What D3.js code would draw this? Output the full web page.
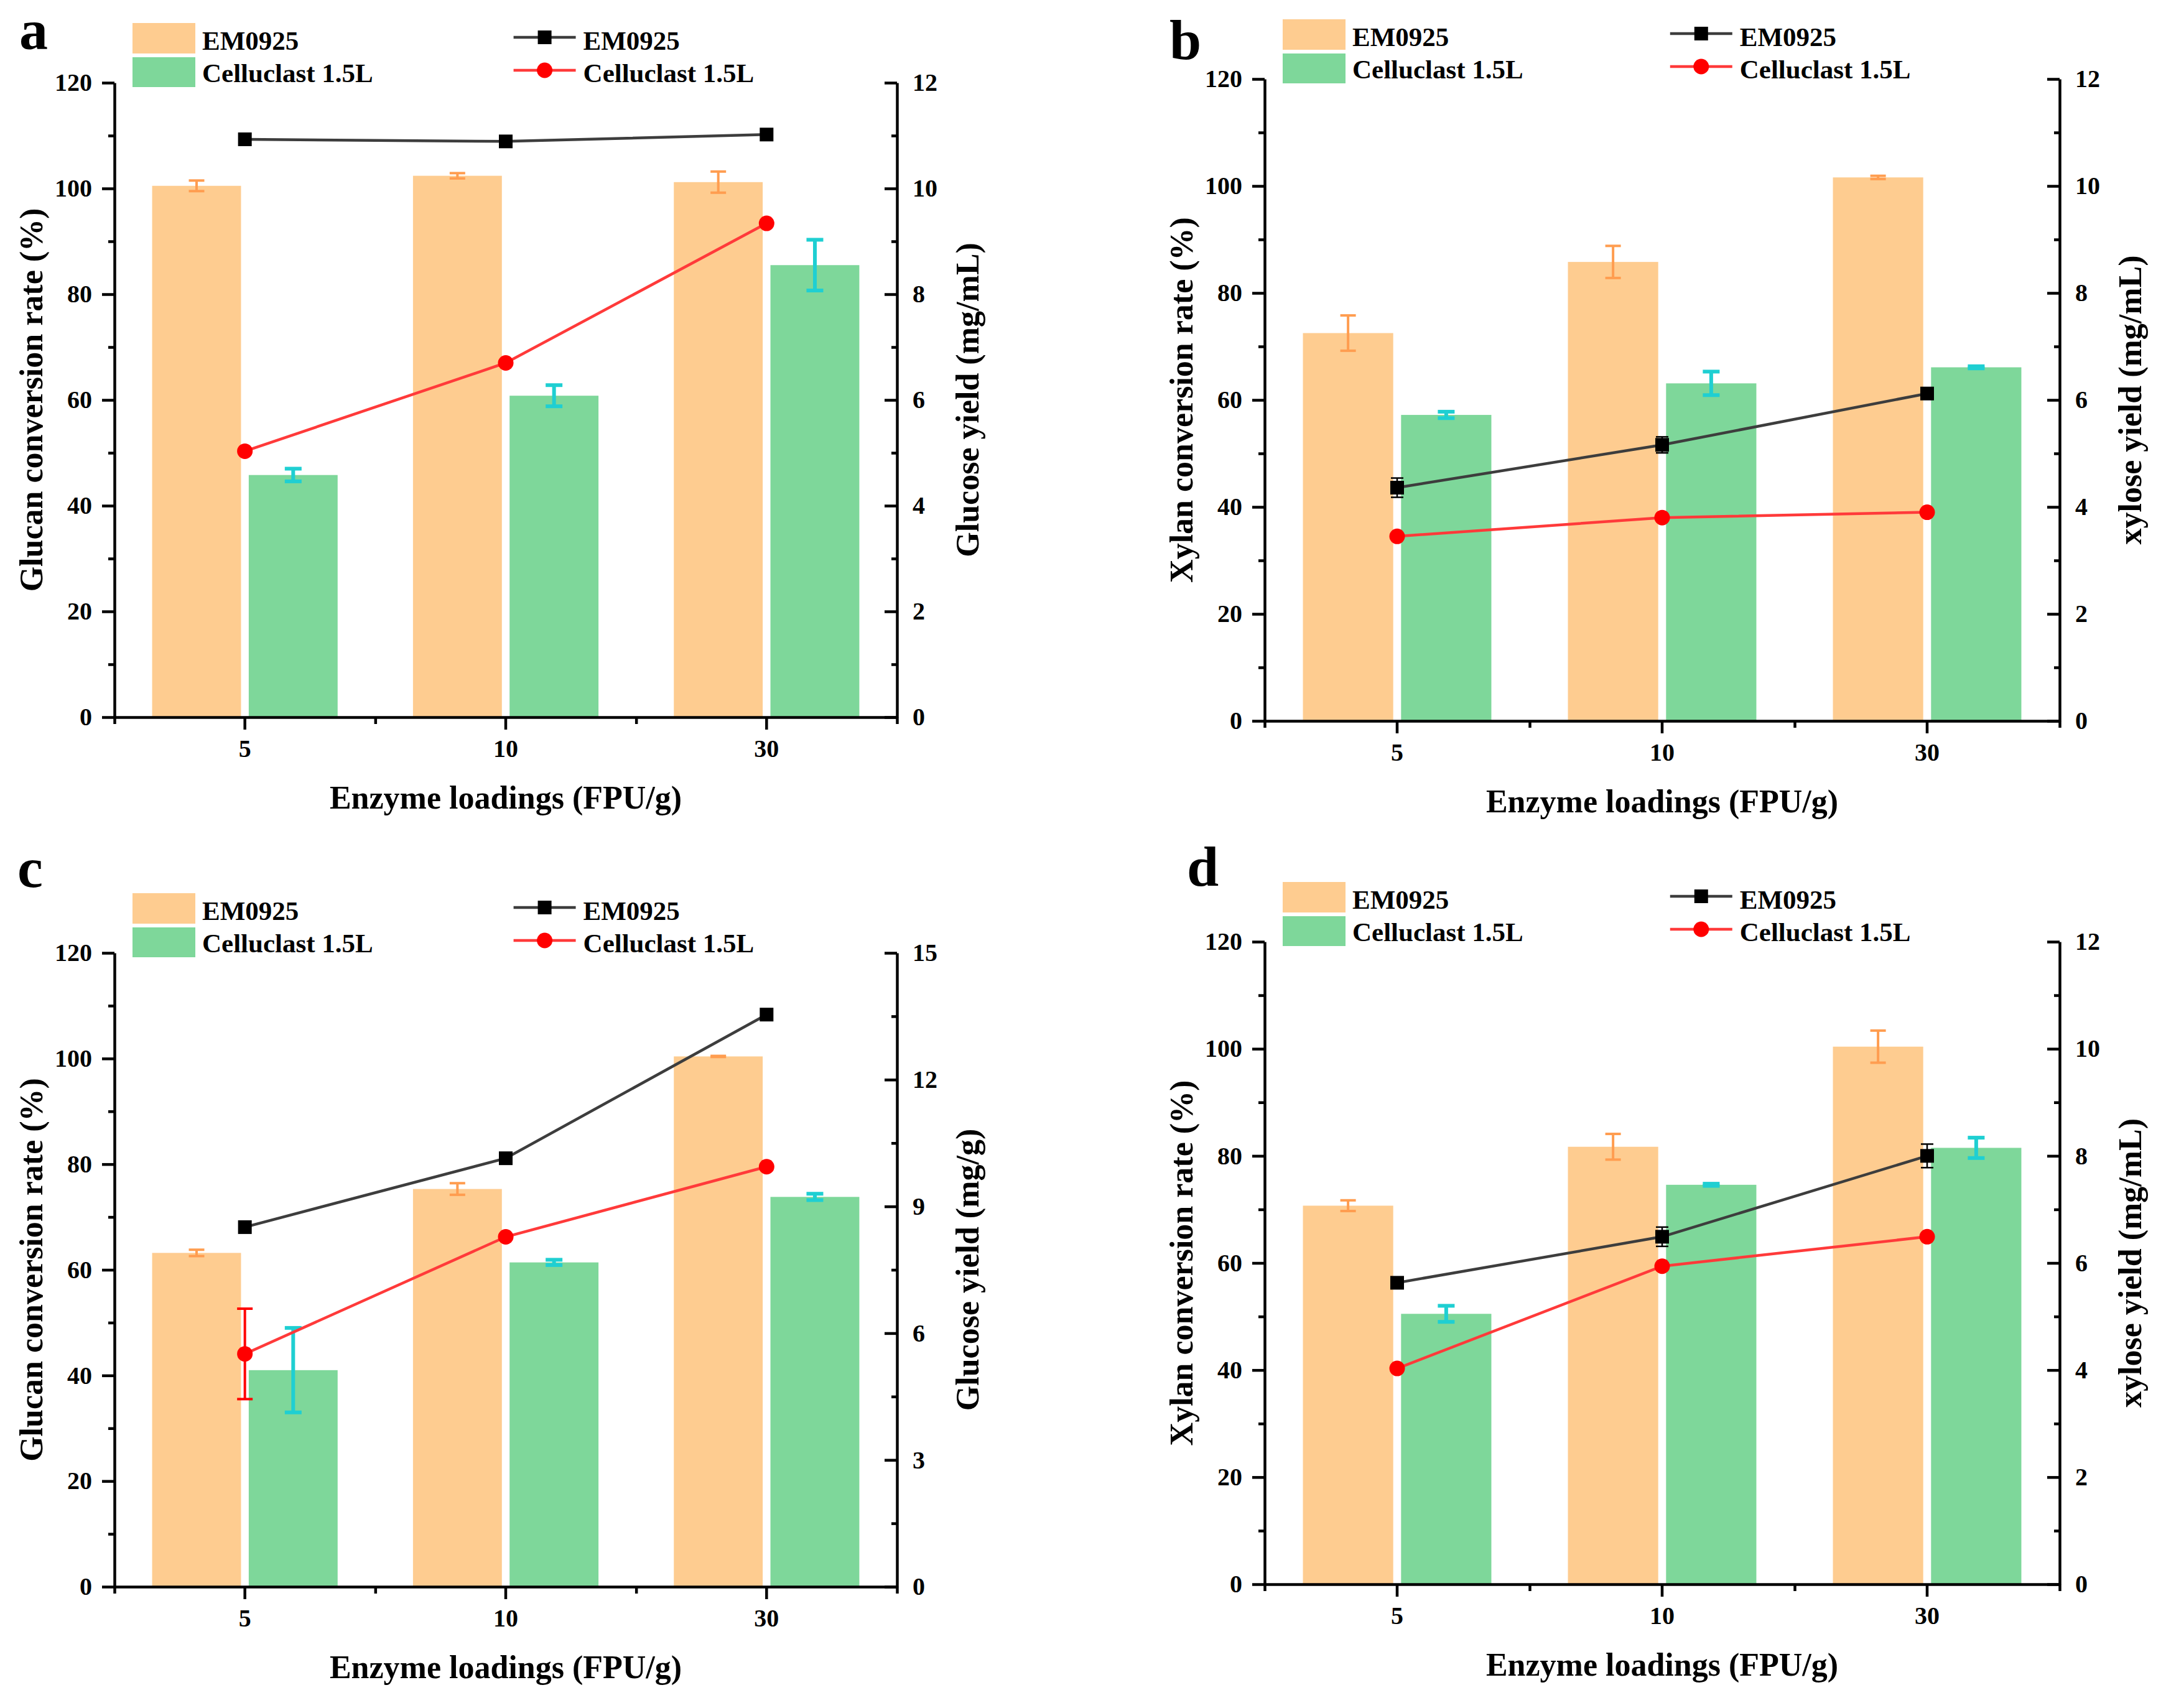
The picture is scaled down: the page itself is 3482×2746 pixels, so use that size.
<!DOCTYPE html>
<html>
<head>
<meta charset="utf-8">
<script src="https://cdn.jsdelivr.net/npm/d3@7"></script>
<style>
  body { margin: 0; background: #fff; }
  text { font-family: "Liberation Serif", "Times New Roman", serif; font-weight: bold; fill: #000; }
</style>
</head>
<body>
<svg id="fig" width="3482" height="2746"></svg>
<script>
// categories
const loadings = ["5", "10", "30"];
const barSeries = ["EM0925", "Celluclast 1.5L"];
const lineSeries = ["EM0925", "Celluclast 1.5L"];

// panel a: glucan conversion (%) / glucose yield (mg/mL)
const aConvEM = [100.5, 102.4, 101.2];
const aConvEMErr = [1.0, 0.5, 2.0];
const aConvCC = [45.8, 60.8, 85.5];
const aConvCCErr = [1.2, 2.0, 4.8];
const aYieldEM = [10.93, 10.89, 11.02];
const aYieldEMErr = [0, 0, 0];
const aYieldCC = [5.03, 6.70, 9.34];
const aYieldCCErr = [0, 0, 0];

// panel b: xylan conversion (%) / xylose yield (mg/mL)
const bConvEM = [72.5, 85.8, 101.6];
const bConvEMErr = [3.3, 3.0, 0.3];
const bConvCC = [57.2, 63.1, 66.1];
const bConvCCErr = [0.6, 2.2, 0.2];
const bYieldEM = [4.36, 5.16, 6.12];
const bYieldEMErr = [0.18, 0.15, 0.05];
const bYieldCC = [3.45, 3.80, 3.90];
const bYieldCCErr = [0, 0, 0];

// panel c: glucan conversion (%) / glucose yield (mg/g)
const cConvEM = [63.2, 75.3, 100.4];
const cConvEMErr = [0.6, 1.1, 0.1];
const cConvCC = [41.0, 61.4, 73.8];
const cConvCCErr = [8.0, 0.5, 0.6];
const cYieldEM = [8.51, 10.14, 13.54];
const cYieldEMErr = [0, 0, 0];
const cYieldCC = [5.51, 8.28, 9.94];
const cYieldCCErr = [1.07, 0, 0];

// panel d: xylan conversion (%) / xylose yield (mg/mL)
const dConvEM = [70.7, 81.7, 100.4];
const dConvEMErr = [1.0, 2.4, 3.0];
const dConvCC = [50.5, 74.6, 81.5];
const dConvCCErr = [1.5, 0.2, 1.9];
const dYieldEM = [5.63, 6.49, 8.00];
const dYieldEMErr = [0.1, 0.18, 0.22];
const dYieldCC = [4.03, 5.94, 6.49];
const dYieldCCErr = [0, 0, 0];

const leftTicks = [0, 20, 40, 60, 80, 100, 120];

const barColors = ["#FECC90", "#7ED79A"];
const barErrColors = ["#FF9D50", "#1FCFD2"];
const lineColors = ["#3D3D3D", "#FF3A3A"];
const markerColors = ["#000000", "#FF0000"];

const panels = [
  {label: "a", labelPos: [31, 79], left: 184, right: 1442, top: 133, bottom: 1153,
   leftTitle: "Glucan conversion rate (%)", rightTitle: "Glucose yield (mg/mL)",
   rightMax: 12, rightStep: 2,
   bars: [aConvEM, aConvCC], barErr: [aConvEMErr, aConvCCErr],
   lines: [aYieldEM, aYieldCC], lineErr: [aYieldEMErr, aYieldCCErr]},
  {label: "b", labelPos: [1880, 95], left: 2033, right: 3311, top: 127, bottom: 1159,
   leftTitle: "Xylan conversion rate (%)", rightTitle: "xylose yield (mg/mL)",
   rightMax: 12, rightStep: 2,
   bars: [bConvEM, bConvCC], barErr: [bConvEMErr, bConvCCErr],
   lines: [bYieldEM, bYieldCC], lineErr: [bYieldEMErr, bYieldCCErr]},
  {label: "c", labelPos: [28, 1426], left: 184, right: 1442, top: 1532, bottom: 2551,
   leftTitle: "Glucan conversion rate (%)", rightTitle: "Glucose yield (mg/g)",
   rightMax: 15, rightStep: 3,
   bars: [cConvEM, cConvCC], barErr: [cConvEMErr, cConvCCErr],
   lines: [cYieldEM, cYieldCC], lineErr: [cYieldEMErr, cYieldCCErr]},
  {label: "d", labelPos: [1908, 1424], left: 2033, right: 3311, top: 1514, bottom: 2547,
   leftTitle: "Xylan conversion rate (%)", rightTitle: "xylose yield (mg/mL)",
   rightMax: 12, rightStep: 2,
   bars: [dConvEM, dConvCC], barErr: [dConvEMErr, dConvCCErr],
   lines: [dYieldEM, dYieldCC], lineErr: [dYieldEMErr, dYieldCCErr]}
];

const svg = d3.select("#fig");
const axisW = 4.5;

function styleAxis(g, fontSize) {
  g.attr("font-size", fontSize).attr("font-family", null);
  g.selectAll("path, line").attr("stroke", "#000").attr("stroke-width", axisW);
}

function drawPanel(p) {
  const g = svg.append("g");
  const W = p.right - p.left;

  const x = d3.scaleBand().domain(loadings).range([p.left, p.right]);
  const xs = d3.scaleBand().domain(barSeries).range([0, x.bandwidth()])
      .paddingInner(0.08).paddingOuter(0.39);
  const y = d3.scaleLinear().domain([0, 120]).range([p.bottom, p.top]);
  const y2 = d3.scaleLinear().domain([0, p.rightMax]).range([p.bottom, p.top]);
  const cx = i => x(loadings[i]) + x.bandwidth() / 2;

  // bars
  p.bars.forEach((vals, si) => {
    g.append("g").selectAll("rect").data(vals).join("rect")
      .attr("x", (d, i) => x(loadings[i]) + xs(barSeries[si]))
      .attr("y", d => y(d))
      .attr("width", xs.bandwidth())
      .attr("height", d => y(0) - y(d))
      .attr("fill", barColors[si]);
  });

  // bar error bars
  p.bars.forEach((vals, si) => {
    const eg = g.append("g").attr("stroke", barErrColors[si])
        .attr("stroke-width", si === 0 ? 4 : 6);
    vals.forEach((v, i) => {
      const e = p.barErr[si][i];
      const bx = x(loadings[i]) + xs(barSeries[si]) + xs.bandwidth() / 2;
      const hw = si === 0 ? 12.5 : 13.5;
      eg.append("line").attr("x1", bx).attr("x2", bx).attr("y1", y(v - e)).attr("y2", y(v + e));
      eg.append("line").attr("x1", bx - hw).attr("x2", bx + hw).attr("y1", y(v + e)).attr("y2", y(v + e));
      eg.append("line").attr("x1", bx - hw).attr("x2", bx + hw).attr("y1", y(v - e)).attr("y2", y(v - e));
    });
  });

  // axes
  const yl = g.append("g").attr("transform", `translate(${p.left},0)`)
      .call(d3.axisLeft(y).tickValues(leftTicks).tickSize(20).tickPadding(16).tickSizeOuter(0));
  styleAxis(yl, 40);
  const ylm = g.append("g").attr("transform", `translate(${p.left},0)`)
      .call(d3.axisLeft(y).tickValues(d3.range(10, 120, 20)).tickSize(10).tickFormat(""));
  ylm.select(".domain").remove();
  styleAxis(ylm, 40);

  const yr = g.append("g").attr("transform", `translate(${p.right},0)`)
      .call(d3.axisRight(y2).tickValues(d3.range(0, p.rightMax + 0.01, p.rightStep))
        .tickSize(-20).tickPadding(25).tickSizeOuter(0));
  styleAxis(yr, 40);
  const yrm = g.append("g").attr("transform", `translate(${p.right},0)`)
      .call(d3.axisRight(y2).tickValues(d3.range(p.rightStep / 2, p.rightMax, p.rightStep))
        .tickSize(-9).tickFormat(""));
  yrm.select(".domain").remove();
  styleAxis(yrm, 40);

  const xb = g.append("g").attr("transform", `translate(0,${p.bottom})`)
      .call(d3.axisBottom(x).tickSize(20).tickPadding(16).tickSizeOuter(0));
  styleAxis(xb, 40);
  const xEdge = d3.scaleLinear().domain([0, loadings.length]).range([p.left, p.right]);
  const xbm = g.append("g").attr("transform", `translate(0,${p.bottom})`)
      .call(d3.axisBottom(xEdge).tickValues(d3.range(0, loadings.length + 1)).tickSize(11).tickFormat(""));
  xbm.select(".domain").remove();
  styleAxis(xbm, 40);

  // lines on right axis
  const line = d3.line().x((d, i) => cx(i)).y(d => y2(d));
  p.lines.forEach((vals, si) => {
    g.append("path").datum(vals)
      .attr("fill", "none").attr("stroke", lineColors[si]).attr("stroke-width", 4.5)
      .attr("d", line);
  });
  p.lines.forEach((vals, si) => {
    const eg = g.append("g").attr("stroke", markerColors[si]).attr("stroke-width", si === 0 ? 2.5 : 4);
    const hw = si === 0 ? 10 : 12.5;
    vals.forEach((v, i) => {
      const e = p.lineErr[si][i];
      if (!e) return;
      eg.append("line").attr("x1", cx(i)).attr("x2", cx(i)).attr("y1", y2(v - e)).attr("y2", y2(v + e));
      eg.append("line").attr("x1", cx(i) - hw).attr("x2", cx(i) + hw).attr("y1", y2(v + e)).attr("y2", y2(v + e));
      eg.append("line").attr("x1", cx(i) - hw).attr("x2", cx(i) + hw).attr("y1", y2(v - e)).attr("y2", y2(v - e));
    });
  });
  p.lines.forEach((vals, si) => {
    const mg = g.append("g").attr("fill", markerColors[si]);
    if (si === 0) {
      mg.selectAll("rect").data(vals).join("rect")
        .attr("x", (d, i) => cx(i) - 11).attr("y", d => y2(d) - 11)
        .attr("width", 22).attr("height", 22);
    } else {
      mg.selectAll("circle").data(vals).join("circle")
        .attr("cx", (d, i) => cx(i)).attr("cy", d => y2(d)).attr("r", 12.5);
    }
  });

  // titles
  const midY = (p.top + p.bottom) / 2;
  g.append("text").attr("transform", `translate(${p.left - 134},${midY}) rotate(-90)`)
    .attr("text-anchor", "middle").attr("dy", "0.35em").attr("font-size", 52).text(p.leftTitle);
  g.append("text").attr("transform", `translate(${p.right + 113},${midY}) rotate(-90)`)
    .attr("text-anchor", "middle").attr("dy", "0.35em").attr("font-size", 52).text(p.rightTitle);
  g.append("text").attr("x", (p.left + p.right) / 2).attr("y", p.bottom + 147)
    .attr("text-anchor", "middle").attr("font-size", 52).text("Enzyme loadings (FPU/g)");
  g.append("text").attr("x", p.labelPos[0]).attr("y", p.labelPos[1])
    .attr("font-size", 92).text(p.label);

  // legend: bars
  const lg = g.append("g");
  const rowsSq = [[p.top - 96, 49], [p.top - 41, 48]];
  barSeries.forEach((name, si) => {
    lg.append("rect").attr("x", p.left + 29).attr("y", rowsSq[si][0])
      .attr("width", 101).attr("height", rowsSq[si][1]).attr("fill", barColors[si]);
    lg.append("text").attr("x", p.left + 141).attr("y", si === 0 ? p.top - 53 : p.top - 1)
      .attr("font-size", 43).text(name);
  });
  // legend: lines
  const lx = p.left + 0.51 * W;
  lineSeries.forEach((name, si) => {
    const ly = si === 0 ? p.top - 73 : p.top - 20;
    lg.append("line").attr("x1", lx).attr("x2", lx + 100).attr("y1", ly).attr("y2", ly)
      .attr("stroke", lineColors[si]).attr("stroke-width", 4.5);
    if (si === 0) {
      lg.append("rect").attr("x", lx + 39).attr("y", ly - 11).attr("width", 22).attr("height", 22)
        .attr("fill", markerColors[si]);
    } else {
      lg.append("circle").attr("cx", lx + 50).attr("cy", ly).attr("r", 12.5).attr("fill", markerColors[si]);
    }
    lg.append("text").attr("x", lx + 112).attr("y", si === 0 ? p.top - 53 : p.top - 1)
      .attr("font-size", 43).text(name);
  });
}

panels.forEach(drawPanel);
</script>
</body>
</html>
